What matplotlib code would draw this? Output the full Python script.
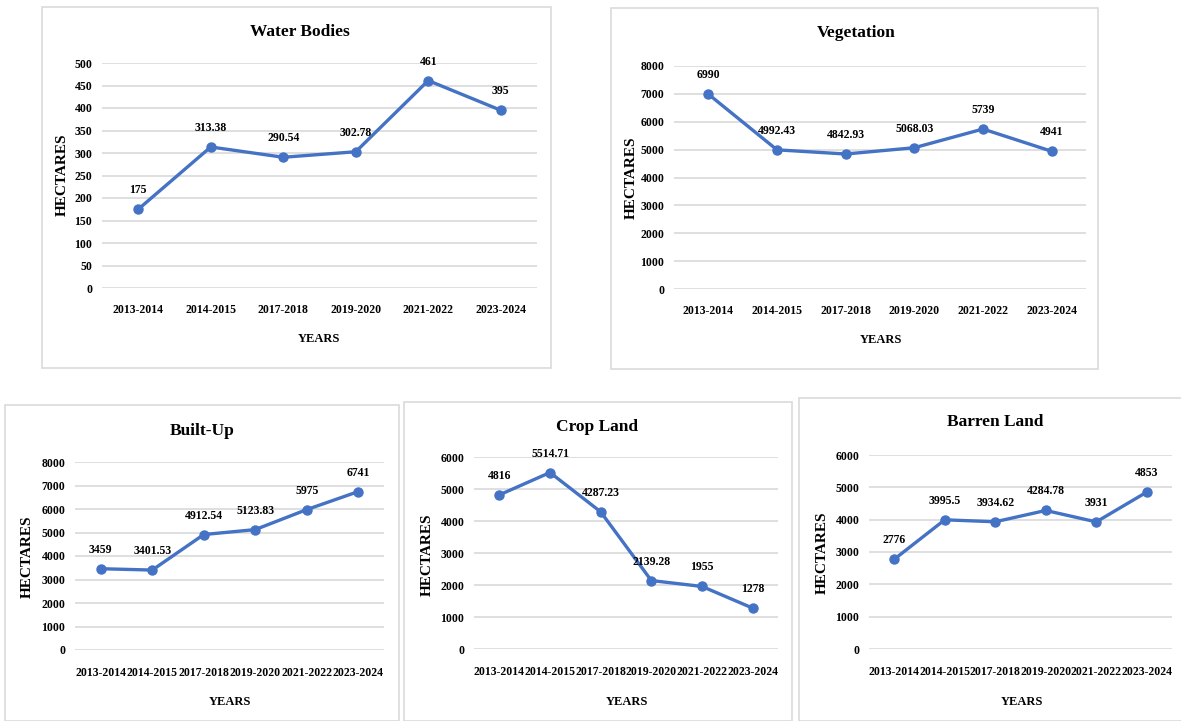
import matplotlib
matplotlib.use('Agg')
import matplotlib.pyplot as plt
from matplotlib.patches import Rectangle

plt.rcParams['font.family'] = ['Liberation Serif', 'DejaVu Serif']
plt.rcParams['font.weight'] = 'bold'

years = ['2013-2014', '2014-2015', '2017-2018', '2019-2020', '2021-2022', '2023-2024']
water_bodies = [175, 313.38, 290.54, 302.78, 461, 395]
vegetation = [6990, 4992.43, 4842.93, 5068.03, 5739, 4941]
built_up = [3459, 3401.53, 4912.54, 5123.83, 5975, 6741]
crop_land = [4816, 5514.71, 4287.23, 2139.28, 1955, 1278]
barren_land = [2776, 3995.5, 3934.62, 4284.78, 3931, 4853]

titles = ['Water Bodies', 'Vegetation', 'Built-Up', 'Crop Land', 'Barren Land']
series = [water_bodies, vegetation, built_up, crop_land, barren_land]
y_max = [500, 8000, 8000, 6000, 6000]
y_step = [50, 1000, 1000, 1000, 1000]

W, H = 1181, 721
fig = plt.figure(figsize=(W / 100, H / 100), dpi=100)
fig.patch.set_facecolor('white')

# pixel layouts: border (x0, y0, x1, y1), axes (left, right, top, bottom),
# title (x, y), years label (x, y), hectares label (x, y), xtick pad (pt)
layouts = [
    dict(border=(42, 7, 551, 368), ax=(102, 537, 63, 288), title=(300, 32),
         years=(319, 339), hect=(62, 175), xpad=11.5),
    dict(border=(611, 8, 1098, 369), ax=(674, 1086, 66, 289), title=(856, 33),
         years=(881, 340), hect=(631, 178), xpad=11.5),
    dict(border=(5, 405, 399, 721), ax=(75, 384, 462, 650), title=(202, 431),
         years=(230, 702), hect=(27, 557), xpad=12.5),
    dict(border=(404, 402, 792, 721), ax=(474, 778, 457, 649), title=(597, 427),
         years=(627, 702), hect=(427, 555), xpad=12.5),
    dict(border=(799, 398, 1185, 721), ax=(869, 1172, 455, 649), title=(995, 422),
         years=(1022, 702), hect=(822, 553), xpad=12.5),
]

line_color = '#4472C4'
grid_color = '#d9d9d9'

for title, vals, ymax, ystep, lay in zip(titles, series, y_max, y_step, layouts):
    bx0, by0, bx1, by1 = lay['border']
    fig.patches.append(Rectangle((bx0 / W, 1 - by1 / H), (bx1 - bx0) / W, (by1 - by0) / H,
                                 transform=fig.transFigure, fill=False,
                                 edgecolor='#dadada', linewidth=1.2, zorder=0))
    l, r, t, b = lay['ax']
    ax = fig.add_axes([l / W, 1 - b / H, (r - l) / W, (b - t) / H])
    x = list(range(len(years)))
    ax.plot(x, vals, color=line_color, lw=2.4, marker='o', ms=6.5, zorder=3, clip_on=False)
    ax.set_xlim(-0.5, len(years) - 0.5)
    ax.set_ylim(0, ymax)
    ax.set_yticks(list(range(0, ymax + 1, ystep)))
    ax.set_xticks(x)
    ax.set_xticklabels(years)
    ax.grid(axis='y', color=grid_color, lw=1.2)
    ax.set_axisbelow(True)
    for s in ax.spines.values():
        s.set_visible(False)
    ax.tick_params(axis='both', length=0, labelsize=8.5)
    ax.tick_params(axis='y', pad=7)
    ax.tick_params(axis='x', pad=lay['xpad'])
    for xi, v in zip(x, vals):
        ax.annotate('%g' % v, (xi, v), xytext=(0, 19), textcoords='offset pixels',
                    ha='center', va='center', fontsize=8.5, fontweight='bold',
                    annotation_clip=False, zorder=4)
    tx, ty = lay['title']
    fig.text(tx / W, 1 - ty / H, title, ha='center', va='center', fontsize=12.5, fontweight='bold')
    yx, yy = lay['years']
    fig.text(yx / W, 1 - yy / H, 'YEARS', ha='center', va='center', fontsize=9, fontweight='bold')
    hx, hy = lay['hect']
    fig.text(hx / W, 1 - hy / H, 'HECTARES', ha='center', va='center', rotation=90,
             fontsize=11, fontweight='bold')

fig.savefig('out.png', dpi=100, facecolor='white')
